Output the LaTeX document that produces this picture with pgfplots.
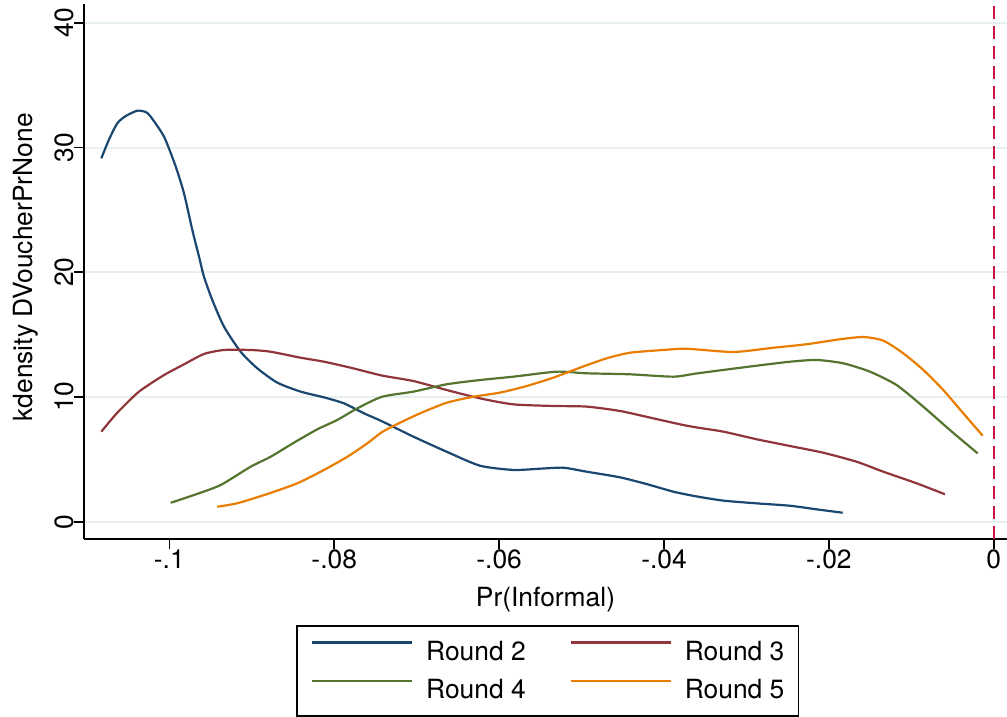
\documentclass[border=0pt]{standalone}
\usepackage{pgfplots}
\pgfplotsset{compat=1.18}
\usepackage{fontspec}
\setmainfont{TeX Gyre Heros}
\definecolor{cnavy}{RGB}{26,71,111}
\definecolor{cmaroon}{RGB}{144,53,59}
\definecolor{cgreen}{RGB}{85,117,47}
\definecolor{corange}{RGB}{232,125,0}
\definecolor{cred}{RGB}{205,20,70}
\definecolor{gridc}{RGB}{232,239,241}
\begin{document}
\begin{tikzpicture}[font=\fontsize{13.2}{15}\selectfont]
\useasboundingbox (0,0) rectangle (503.5pt,358.5pt);
\begin{axis}[
  at={(42pt,89pt)}, anchor=south west,
  scale only axis, width=461.5pt, height=267.4pt,
  xmin=-0.11035, xmax=0.0016, ymin=-1.387, ymax=41.5,
  axis x line*=bottom, axis y line*=left,
  axis line style={-, line width=0.8pt, black},
  xtick={-0.1,-0.08,-0.06,-0.04,-0.02,0},
  xticklabels={-.1,-.08,-.06,-.04,-.02,0},
  ytick={0,10,20,30,40},
  yticklabels={0,10,20,30,40},
  tick align=outside, major tick length=5pt,
  tick style={line width=0.8pt, black},
  xticklabel style={anchor=north, inner sep=0pt},
  yticklabel style={rotate=90, anchor=south, inner sep=0pt},
  ymajorgrids, grid style={line width=1pt, color=gridc},
  xlabel={Pr(Informal)},
  ylabel={kdensity DVoucherPrNone},
  every axis x label/.style={at={(axis description cs:0.5,-0.1253)}, anchor=base, inner sep=0pt},
  every axis y label/.style={at={(axis description cs:-0.04875,0.508)}, rotate=90, anchor=south, inner sep=0pt},
  legend columns=2,
  legend cell align=left,
  legend image code/.code={\draw[#1] (0pt,4.75pt) -- (50pt,4.75pt);},
  legend style={at={(axis description cs:0.5024,0)}, anchor=north, yshift=-43pt,
    draw=black, line width=0.8pt, inner xsep=7pt, inner ysep=7.5pt, row sep=8pt,
    nodes={inner sep=0pt},
    /tikz/every odd column/.append style={column sep=6.5pt},
    /tikz/every even column/.append style={column sep=22pt}},
  every axis plot/.append style={line width=1.1pt, smooth, tension=0.4},
]
\addplot[cnavy] coordinates {
(-0.10825,29.14) (-0.10731,30.66) (-0.10631,31.95) (-0.10529,32.53) (-0.10388,32.96)
(-0.10286,32.85) (-0.10226,32.48) (-0.10064,30.87)
(-0.09922,28.47) (-0.09822,26.33) (-0.09721,23.39) (-0.0964,21.25) (-0.0958,19.65)
(-0.09479,17.78) (-0.09337,15.64) (-0.09135,13.63) (-0.08933,12.30) (-0.08690,11.15)
(-0.08407,10.43) (-0.08124,9.97) (-0.07882,9.49) (-0.07639,8.69) (-0.07420,8.05)
(-0.0704,6.82) (-0.06636,5.61) (-0.06232,4.49) (-0.05828,4.15) (-0.05505,4.25)
(-0.05222,4.33) (-0.04939,4.01) (-0.04535,3.56) (-0.04212,3.02) (-0.03888,2.41)
(-0.03625,2.05) (-0.0328,1.69) (-0.02876,1.47) (-0.02472,1.28) (-0.02149,0.99)
(-0.01833,0.72)};
\addlegendentry{Round 2}
\addplot[cmaroon] coordinates {
(-0.10825,7.22) (-0.10631,8.74) (-0.10368,10.43) (-0.10064,11.76) (-0.09822,12.62)
(-0.0958,13.45) (-0.09337,13.77) (-0.09014,13.77) (-0.08771,13.63) (-0.08407,13.15)
(-0.08124,12.83) (-0.07801,12.35) (-0.07420,11.72) (-0.0704,11.28) (-0.06636,10.56)
(-0.06232,9.89) (-0.05828,9.41) (-0.05343,9.28) (-0.04939,9.23) (-0.04535,8.88)
(-0.04131,8.29) (-0.03807,7.81) (-0.03625,7.58) (-0.0328,7.22) (-0.02876,6.61)
(-0.02472,6.07) (-0.02068,5.53) (-0.01664,4.81) (-0.01341,4.01) (-0.00937,3.08)
(-0.00593,2.20)};
\addlegendentry{Round 3}
\addplot[cgreen] coordinates {
(-0.09983,1.52) (-0.09701,2.14) (-0.09378,2.94) (-0.09014,4.41) (-0.08771,5.21)
(-0.08488,6.34) (-0.08205,7.41) (-0.07963,8.16) (-0.0772,9.09) (-0.07420,10.02)
(-0.0704,10.43) (-0.06636,11.02) (-0.06232,11.36) (-0.05828,11.63) (-0.05302,12.03)
(-0.04939,11.90) (-0.04413,11.82) (-0.03888,11.63) (-0.03625,11.87) (-0.0328,12.17)
(-0.02876,12.51) (-0.02472,12.83) (-0.02149,12.97) (-0.01825,12.70) (-0.01502,12.03)
(-0.01179,10.96) (-0.00855,9.22) (-0.00532,7.35) (-0.00196,5.48)};
\addlegendentry{Round 4}
\addplot[corange] coordinates {
(-0.09419,1.20) (-0.09176,1.48) (-0.08812,2.22) (-0.08448,3.08) (-0.08124,4.15)
(-0.0784,5.21) (-0.07598,6.29) (-0.07420,7.19) (-0.07242,7.81) (-0.06959,8.69)
(-0.06636,9.54) (-0.06313,10.02) (-0.0599,10.35) (-0.05666,10.88) (-0.05343,11.55)
(-0.0502,12.35) (-0.04697,13.10) (-0.04413,13.55) (-0.04009,13.77) (-0.03726,13.87)
(-0.03159,13.61) (-0.02674,13.95) (-0.0227,14.23) (-0.01866,14.63) (-0.01583,14.81)
(-0.0134,14.52) (-0.01098,13.50) (-0.00855,12.17) (-0.00613,10.56) (-0.0037,8.69)
(-0.00135,6.90)};
\addlegendentry{Round 5}
\addplot[cred, line width=1.1pt, dash pattern=on 6.5pt off 3.5pt, forget plot, sharp plot] coordinates {(0,-1.387) (0,41.5)};
\end{axis}
\end{tikzpicture}
\end{document}
